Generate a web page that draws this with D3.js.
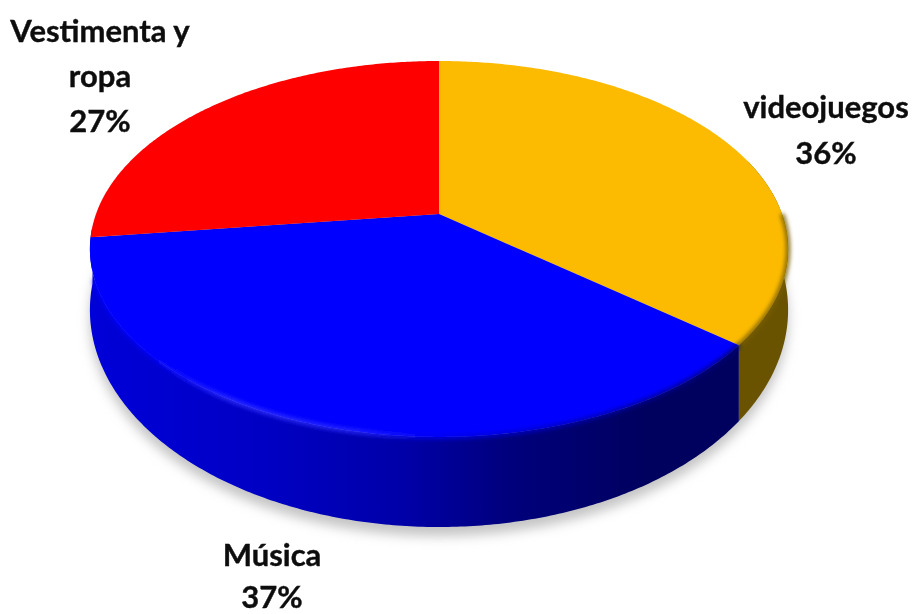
<!DOCTYPE html>
<html>
<head>
<meta charset="utf-8">
<script src="https://cdn.jsdelivr.net/npm/d3@7"></script>
<style>
html,body{margin:0;padding:0;background:#fff;overflow:hidden}
text{font-family:Lato,"Open Sans",sans-serif;font-weight:700;fill:#0b0b0b;stroke:#0b0b0b;stroke-width:0.35px}
</style>
</head>
<body>
<svg id="c" width="912" height="614"></svg>
<script>
// Data, clockwise from 12 o'clock
const categories = ["videojuegos", "Música", "Vestimenta y ropa"];
const values = [36, 37, 27];
const labels = ["36%", "37%", "27%"];
const topColors = ["#fcbb00", "#0000ff", "#ff0000"];

// View: perspective mapping of the unit disc
const view = {cx: 439, w: 343, k: 0.186};
const topRim = {y0: 214, a: -141.65};
const lowRim = {y0: 269.6, a: -159.4};
const project = (t, rim) => {
  const u = Math.sin(t), v = Math.cos(t), w = 1 + view.k * v;
  return [view.cx + view.w * u / w, (rim.y0 + rim.a * v) / w];
};
const arcPts = (a0, a1, rim) => {
  const n = Math.max(2, Math.ceil(Math.abs(a1 - a0) / 0.01));
  const s = d3.scaleLinear().domain([0, n]).range([a0, a1]);
  return d3.range(n + 1).map(i => project(s(i), rim));
};
const line = d3.line();

const pie = d3.pie().sort(null).value(d => d);
const slices = pie(values);

const svg = d3.select("#c");
const defs = svg.append("defs");
const blur = (id, sd) => defs.append("filter").attr("id", id)
  .attr("filterUnits", "userSpaceOnUse")
  .attr("x", 0).attr("y", 0).attr("width", 912).attr("height", 614)
  .append("feGaussianBlur").attr("stdDeviation", sd);
blur("shadow", 6); blur("soft", 0.7); blur("bevel", 2); blur("txt", 0.45);

const grad = (id, stops) => {
  const g = defs.append("linearGradient").attr("id", id)
    .attr("gradientUnits", "userSpaceOnUse")
    .attr("x1", 90).attr("x2", 790).attr("y1", 0).attr("y2", 0);
  stops.forEach(([o, c]) => g.append("stop").attr("offset", o).attr("stop-color", c));
};
grad("wallBlue", [[0, "#0000d8"], [0.25, "#0000c4"], [0.45, "#0000a8"], [0.6, "#00007c"], [0.8, "#00005e"], [1, "#00005e"]]);
grad("wallGold", [[0, "#6b5200"], [1, "#6b5200"]]);
grad("rimBlue", [[0, "#0000ff"], [0.08, "#0000ff"], [0.2, "#3434ff"], [0.38, "#2c2cff"], [0.5, "#0000ee"], [0.7, "#0000b0"], [0.93, "#000078"], [1, "#000078"]]);
grad("rimGold", [[0, "#7a5e00"], [1, "#7a5e00"]]);
const wallFill = ["url(#wallGold)", "url(#wallBlue)"];
const rimStroke = ["url(#rimGold)", "url(#rimBlue)"];
const rimStart = [0.5 * Math.PI, slices[1].startAngle];
const rimEnd = [slices[0].endAngle, slices[1].endAngle - 0.22];

// Shadow
svg.append("path")
  .attr("d", line(arcPts(0, 2 * Math.PI, lowRim)) + "Z")
  .attr("transform", "translate(0,9)")
  .attr("fill", "#c4c4c4")
  .attr("filter", "url(#shadow)");

const g = svg.append("g").attr("filter", "url(#soft)");

// Side walls of the front slices
slices.slice(0, 2).forEach((d, i) => {
  const start = i === 0 ? Math.PI * 0.4 : d.startAngle;
  const end = i === 1 ? d.endAngle + 0.06 : d.endAngle;
  const pts = arcPts(start, end, lowRim).concat(arcPts(end, start, topRim));
  g.append("path").attr("d", line(pts) + "Z").attr("fill", wallFill[i]);
});

// Top faces
g.selectAll("path.face").data(slices).join("path").attr("class", "face")
  .attr("fill", (d, i) => topColors[i])
  .attr("d", d => line([[view.cx, topRim.y0], ...arcPts(d.startAngle, d.endAngle, topRim)]) + "Z");

// Bevel along the front rim
[0, 1].forEach(i => {
  svg.append("path").attr("d", line(arcPts(rimStart[i], rimEnd[i], topRim)))
    .attr("fill", "none").attr("stroke", rimStroke[i]).attr("stroke-width", 4)
    .attr("stroke-linecap", "butt").attr("filter", "url(#bevel)");
});

// Labels
const labelLines = [["videojuegos"], ["Música"], ["Vestimenta y", "ropa"]];
const labelPos = [[826, 118, 46], [272, 566, 42], [100, 42, 45]];
const fontSize = 31;
const labelG = svg.append("g").attr("filter", "url(#txt)");
labelLines.forEach((lines, i) => {
  const [x, y, dy] = labelPos[i];
  [...lines, labels[i]].forEach((t, j) => {
    labelG.append("text").attr("x", x).attr("y", y + j * dy)
      .attr("text-anchor", "middle").attr("font-size", fontSize).text(t);
  });
});
</script>
</body>
</html>
